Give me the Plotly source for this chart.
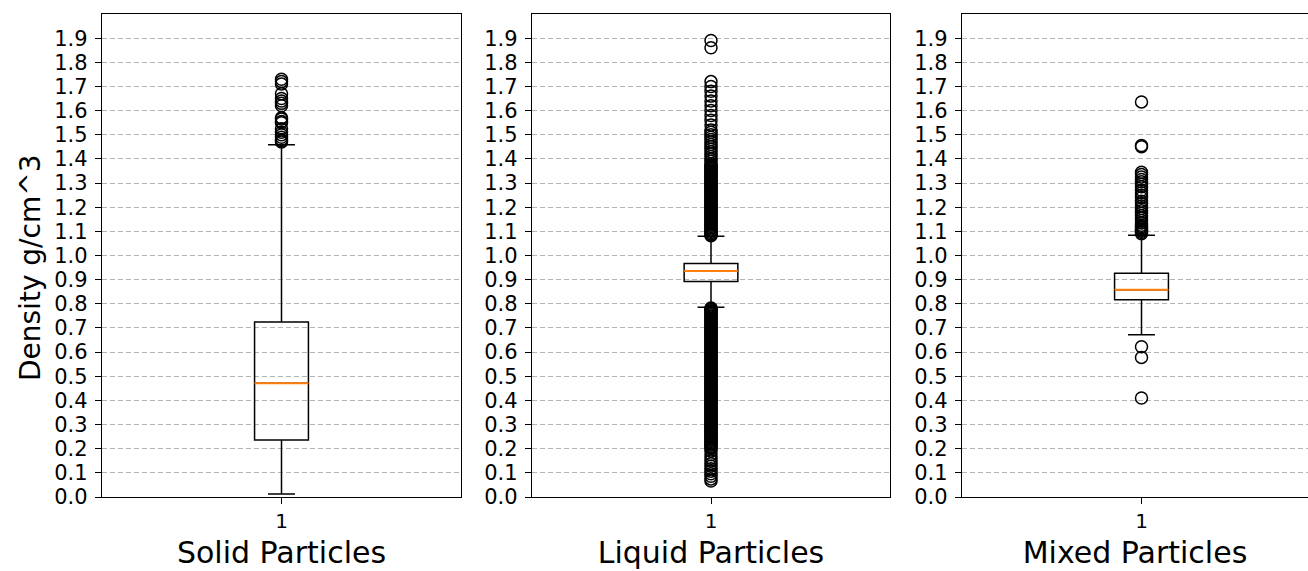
import plotly.graph_objects as go

# ---------------- data ----------------
panels = ["Solid Particles", "Liquid Particles", "Mixed Particles"]
y_label = "Density g/cm^3"
q1 = [0.236, 0.892, 0.817]
medians = [0.471, 0.936, 0.858]
q3 = [0.725, 0.967, 0.926]
lower_whisker = [0.012, 0.786, 0.672]
upper_whisker = [1.459, 1.080, 1.084]

solid_outliers = [1.73, 1.72, 1.71, 1.67, 1.65, 1.64, 1.63, 1.62, 1.57, 1.565,
                  1.555, 1.55, 1.525, 1.51, 1.50, 1.49, 1.48, 1.475, 1.47]

liquid_outliers = [
    1.89, 1.86, 1.72, 1.70, 1.68, 1.66, 1.64, 1.62, 1.60, 1.58, 1.56, 1.54,
    1.52, 1.51, 1.50, 1.49, 1.48, 1.47, 1.46, 1.45, 1.44, 1.43, 1.42, 1.41,
    1.40, 1.39, 1.38, 1.375, 1.37,
    1.365, 1.36, 1.355, 1.35, 1.345, 1.34, 1.335, 1.33, 1.325, 1.32, 1.315,
    1.31, 1.305, 1.30, 1.295, 1.29, 1.285, 1.28, 1.275, 1.27, 1.265, 1.26,
    1.255, 1.25, 1.245, 1.24, 1.235, 1.23, 1.225, 1.22, 1.215, 1.21, 1.205,
    1.20, 1.195, 1.19, 1.185, 1.18, 1.175, 1.17, 1.165, 1.16, 1.155, 1.15,
    1.145, 1.14, 1.135, 1.13, 1.125, 1.12, 1.115, 1.11, 1.105, 1.10, 1.095,
    1.09, 1.085, 1.082,
    0.783, 0.78, 0.775, 0.77, 0.765, 0.76, 0.755, 0.75, 0.745, 0.74, 0.735,
    0.73, 0.725, 0.72, 0.715, 0.71, 0.705, 0.70, 0.695, 0.69, 0.685, 0.68,
    0.675, 0.67, 0.665, 0.66, 0.655, 0.65, 0.645, 0.64, 0.635, 0.63, 0.625,
    0.62, 0.615, 0.61, 0.605, 0.60, 0.595, 0.59, 0.585, 0.58, 0.575, 0.57,
    0.565, 0.56, 0.555, 0.55, 0.545, 0.54, 0.535, 0.53, 0.525, 0.52, 0.515,
    0.51, 0.505, 0.50, 0.495, 0.49, 0.485, 0.48, 0.475, 0.47, 0.465, 0.46,
    0.455, 0.45, 0.445, 0.44, 0.435, 0.43, 0.425, 0.42, 0.415, 0.41, 0.405,
    0.40, 0.395, 0.39, 0.385, 0.38, 0.375, 0.37, 0.365, 0.36, 0.355, 0.35,
    0.345, 0.34, 0.335, 0.33, 0.325, 0.32, 0.315, 0.31, 0.305, 0.30, 0.295,
    0.29, 0.285, 0.28, 0.275, 0.27, 0.265, 0.26, 0.255, 0.25, 0.245, 0.24,
    0.235, 0.23, 0.225, 0.22, 0.215, 0.21, 0.205, 0.20,
    0.19, 0.175, 0.16, 0.149, 0.138, 0.128, 0.117, 0.107, 0.096, 0.086,
    0.075, 0.066,
]

mixed_outliers = [
    1.636, 1.455, 1.45,
    1.345, 1.335, 1.325, 1.315, 1.305, 1.295, 1.285, 1.27, 1.26, 1.25, 1.24,
    1.225, 1.215, 1.205, 1.195, 1.185, 1.175, 1.165, 1.155, 1.145, 1.135,
    1.125, 1.12, 1.115, 1.11, 1.105, 1.10, 1.095, 1.09,
    0.622, 0.578, 0.41,
]
outliers = [solid_outliers, liquid_outliers, mixed_outliers]

ytick_vals = [0.0, 0.1, 0.2, 0.3, 0.4, 0.5, 0.6, 0.7, 0.8, 0.9, 1.0,
              1.1, 1.2, 1.3, 1.4, 1.5, 1.6, 1.7, 1.8, 1.9]
ytick_text = ["%.1f" % v for v in ytick_vals]
xtick_labels = ["1"]
position = 1
box_width = 0.15

# ---------------- figure ----------------
W, H = 1308, 571
ml, mr, mt, mb = 102, 0, 14, 74
plot_w = W - ml - mr
px_edges = [(102, 461), (532, 890), (962, 1308)]
domains = [[(a - ml) / plot_w, (b - ml) / plot_w] for a, b in px_edges]
xranges = [[0.5, 1.5], [0.5, 1.5], [0.5, 0.5 + (1308 - 962) / 359.0]]

FONT = "DejaVu Sans"
fig = go.Figure()

for i in range(3):
    ax = "" if i == 0 else str(i + 1)
    xa, ya = "x" + ax, "y" + ax
    fig.add_trace(go.Box(
        x=[position], q1=[q1[i]], median=[medians[i]], q3=[q3[i]],
        lowerfence=[lower_whisker[i]], upperfence=[upper_whisker[i]],
        boxpoints=False, width=box_width, whiskerwidth=0.5,
        line=dict(color="black", width=1.5), fillcolor="rgba(0,0,0,0)",
        xaxis=xa, yaxis=ya, showlegend=False, hoverinfo="skip",
    ))
    fig.add_trace(go.Scatter(
        x=[position - box_width / 2, position + box_width / 2],
        y=[medians[i], medians[i]], mode="lines",
        line=dict(color="#ff7f0e", width=2),
        xaxis=xa, yaxis=ya, showlegend=False, hoverinfo="skip",
    ))
    fig.add_trace(go.Scatter(
        x=[position] * len(outliers[i]), y=outliers[i], mode="markers",
        marker=dict(symbol="circle-open", size=12, color="black",
                    line=dict(width=1.5, color="black")),
        xaxis=xa, yaxis=ya, showlegend=False, hoverinfo="skip",
    ))

    fig.update_layout(**{
        "xaxis" + ax: dict(
            domain=domains[i], range=xranges[i], anchor=ya,
            tickvals=[position], ticktext=xtick_labels,
            ticks="outside", ticklen=6, tickwidth=1.2, tickcolor="black",
            showline=True, linecolor="black", linewidth=1.3, mirror=True,
            showgrid=False, zeroline=False,
            tickfont=dict(family=FONT, size=20, color="black"),
            title=dict(text=panels[i], standoff=9,
                       font=dict(family=FONT, size=30, color="black")),
        ),
        "yaxis" + ax: dict(
            domain=[0, 1], range=[0, 2.0], anchor=xa,
            tickvals=ytick_vals, ticktext=ytick_text,
            ticks="outside", ticklen=6, tickwidth=1.2, tickcolor="black",
            ticklabelstandoff=3,
            showline=True, linecolor="black", linewidth=1.3,
            mirror=(i < 2),
            showgrid=True, gridcolor="#b5b5b5", gridwidth=0.8,
            griddash="5px,3px", zeroline=False,
            tickfont=dict(family=FONT, size=21, color="black"),
        ),
    })

fig.add_annotation(
    text=y_label, textangle=-90, xref="paper", yref="paper",
    x=-(ml - 30) / plot_w, y=(H - mb - 268) / (H - mt - mb),
    xanchor="center", yanchor="middle", showarrow=False,
    font=dict(family=FONT, size=28, color="black"),
)

fig.update_layout(
    width=W, height=H,
    margin=dict(l=ml, r=mr, t=mt, b=mb, pad=0),
    plot_bgcolor="white", paper_bgcolor="white",
    font=dict(family=FONT, color="black"),
)

fig.write_html("out.html")
